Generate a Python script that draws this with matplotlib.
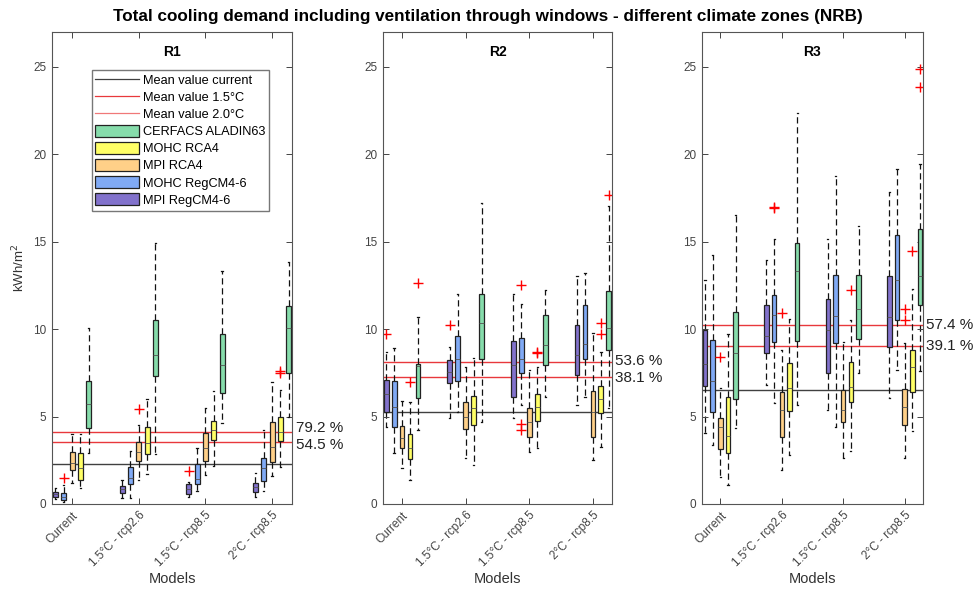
import matplotlib.pyplot as plt
import numpy as np
from matplotlib.lines import Line2D
from matplotlib.patches import Patch

plt.rcParams['font.family'] = ['Liberation Sans', 'DejaVu Sans']

# groups on the x axis and models (left to right inside each group)
groups = ['Current', '1.5°C - rcp2.6', '1.5°C - rcp8.5', '2°C - rcp8.5']
models = ['MPI RegCM4-6', 'MOHC RegCM4-6', 'MPI RCA4', 'MOHC RCA4', 'CERFACS ALADIN63']
model_colors = ['#8272cc', '#80aaf5', '#ffd088', '#ffff66', '#86dcab']
panels = ['R1', 'R2', 'R3']

# box statistics, one row per model, one column per group
r1_lo = [[0.29, 0.32, 0.42, 0.42], [0.13, 0.32, 0.76, 0.76], [1.22, 1.37, 1.66, 1.60],
         [0.90, 1.71, 2.17, 2.13], [2.90, 2.86, 4.65, 4.99]]
r1_q1 = [[0.42, 0.65, 0.57, 0.70], [0.23, 1.12, 1.14, 1.33], [1.94, 2.46, 2.47, 2.38],
         [1.37, 2.86, 3.66, 3.62], [4.32, 7.31, 6.36, 7.50]]
r1_med = [[0.55, 0.84, 0.84, 0.99], [0.42, 1.47, 1.41, 2.04], [2.32, 2.99, 3.18, 3.28],
          [2.04, 3.47, 4.23, 4.13], [5.71, 8.50, 7.94, 10.04]]
r1_q3 = [[0.70, 1.03, 1.12, 1.22], [0.65, 2.13, 2.29, 2.61], [2.99, 3.54, 4.07, 4.70],
         [2.93, 4.38, 4.74, 4.99], [7.03, 10.55, 9.75, 11.31]]
r1_hi = [[0.93, 1.37, 1.27, 1.75], [1.09, 3.05, 3.18, 4.23], [3.98, 4.51, 5.47, 6.99],
         [3.98, 5.98, 6.48, 6.51], [10.07, 14.93, 13.31, 13.85]]
r1_out = [(1, 0, 1.50), (2, 1, 5.43), (0, 2, 1.90), (3, 3, 7.62), (3, 3, 7.52)]

r2_lo = [[4.42, 4.90, 4.90, 5.66], [2.90, 5.28, 5.66, 6.13], [2.04, 2.61, 2.99, 2.51],
         [1.37, 2.23, 3.18, 3.24], [4.23, 4.70, 6.10, 5.47]]
r2_q1 = [[5.28, 6.90, 6.13, 7.37], [4.38, 7.05, 7.47, 8.32], [3.18, 4.30, 3.81, 3.85],
         [2.55, 4.50, 4.74, 5.18], [6.04, 8.32, 7.94, 8.80]]
r2_med = [[6.29, 7.56, 7.94, 8.51], [5.56, 8.32, 8.32, 9.18], [3.75, 4.99, 4.70, 5.28],
          [3.18, 5.47, 5.56, 5.98], [7.90, 10.33, 9.09, 10.04]]
r2_q3 = [[7.09, 8.23, 9.33, 10.23], [7.05, 9.60, 9.47, 11.37], [4.46, 5.81, 5.50, 6.48],
         [4.00, 6.19, 6.27, 6.76], [7.98, 12.04, 10.84, 12.19]]
r2_hi = [[8.70, 8.99, 12.00, 13.03], [8.93, 12.00, 11.43, 13.22], [5.90, 7.85, 7.66, 9.79],
         [5.85, 8.38, 7.85, 8.70], [10.67, 17.22, 12.23, 17.03]]
r2_out = [(0, 0, 9.73), (3, 0, 6.96), (4, 0, 12.67), (0, 1, 10.23),
          (1, 2, 12.55), (1, 2, 4.57), (1, 2, 4.23), (3, 2, 8.69), (3, 2, 8.64),
          (3, 3, 10.33), (3, 3, 9.71), (4, 3, 17.70)]

r3_lo = [[4.04, 6.80, 5.37, 6.04], [3.37, 5.75, 4.42, 7.66], [1.56, 1.94, 2.61, 2.61],
         [1.09, 2.80, 3.05, 4.19], [4.32, 5.66, 7.47, 7.62]]
r3_q1 = [[6.76, 8.61, 7.47, 8.99], [5.28, 9.28, 9.22, 10.55], [3.12, 3.81, 4.70, 4.51],
         [2.90, 5.33, 5.85, 6.42], [5.98, 9.33, 9.41, 11.37]]
r3_med = [[8.00, 9.60, 9.98, 10.70], [7.05, 10.80, 10.74, 12.80], [4.42, 5.37, 5.37, 5.56],
          [3.89, 6.61, 6.70, 7.85], [8.61, 13.31, 11.18, 13.03]]
r3_q3 = [[9.94, 11.41, 11.75, 13.05], [9.37, 11.94, 13.09, 15.41], [4.90, 6.42, 6.51, 6.57],
         [6.10, 8.04, 8.13, 8.80], [10.99, 14.95, 13.09, 15.75]]
r3_hi = [[12.84, 13.94, 15.18, 17.85], [14.23, 15.18, 18.74, 19.18], [6.61, 8.80, 9.28, 9.22],
         [9.75, 10.61, 10.55, 12.32], [16.51, 22.36, 15.89, 19.47]]
r3_out = [(2, 0, 8.42), (1, 1, 16.93), (1, 1, 17.00), (2, 1, 10.90), (3, 2, 12.27),
          (2, 3, 11.18), (2, 3, 10.55), (3, 3, 14.48), (4, 3, 24.86), (4, 3, 23.85)]

# mean of the current climate and increases written next to the red lines
mean_current = [2.31, 5.28, 6.51]
pct_15 = [54.5, 38.1, 39.1]
pct_20 = [79.2, 53.6, 57.4]

stats_all = [(r1_lo, r1_q1, r1_med, r1_q3, r1_hi, r1_out),
             (r2_lo, r2_q1, r2_med, r2_q3, r2_hi, r2_out),
             (r3_lo, r3_q1, r3_med, r3_q3, r3_hi, r3_out)]

fig = plt.figure(figsize=(9.76, 5.94), dpi=100)
W, H = 976, 594
ax_px = [(52, 240), (383, 229), (702, 221)]
offsets = [-0.25, -0.125, 0.0, 0.125, 0.25]
gray = '#404040'
red = '#e8383c'

for p in range(3):
    left, width = ax_px[p]
    ax = fig.add_axes([left / W, 1 - 504 / H, width / W, 472 / H])
    lo, q1, med, q3, hi, out = stats_all[p]
    for m in range(5):
        stats = []
        for g in range(4):
            fl = [v for (mm, gg, v) in out if mm == m and gg == g]
            stats.append(dict(whislo=lo[m][g], q1=q1[m][g], med=med[m][g],
                              q3=q3[m][g], whishi=hi[m][g], fliers=fl))
        pos = np.arange(1, 5) + offsets[m]
        bp = ax.bxp(stats, positions=pos, widths=0.075, patch_artist=True,
                    capwidths=0.02, manage_ticks=False,
                    boxprops=dict(facecolor=model_colors[m], edgecolor='#222222', lw=0.9),
                    medianprops=dict(color='#555555', lw=0.6),
                    whiskerprops=dict(color='#111111', lw=0.9, linestyle=(0, (5, 3))),
                    capprops=dict(color='#111111', lw=0.9),
                    flierprops=dict(marker='+', markeredgecolor='red', markersize=7,
                                    markeredgewidth=1.0))
        for w in bp['whiskers']:
            w.set_zorder(1)

    mc = mean_current[p]
    y15 = mc * (1 + pct_15[p] / 100)
    y20 = mc * (1 + pct_20[p] / 100)
    ax.axhline(mc, color=gray, lw=1.0, zorder=0.5)
    ax.axhline(y15, color=red, lw=1.0, zorder=0.5)
    ax.axhline(y20, color=red, lw=1.0, zorder=0.5)
    gap = y20 - y15
    push = max(0.0, (1.0 - gap) / 2)
    ax.text(1.015, y20 + push, f'{pct_20[p]} %', transform=ax.get_yaxis_transform(),
            va='center', ha='left', fontsize=11, color='#222222')
    ax.text(1.015, y15 - push, f'{pct_15[p]} %', transform=ax.get_yaxis_transform(),
            va='center', ha='left', fontsize=11, color='#222222')

    ax.set_xlim(0.7, 4.3)
    ax.set_ylim(0, 27)
    ax.set_yticks([0, 5, 10, 15, 20, 25])
    ax.set_xticks(np.arange(1, 5))
    ax.set_xticklabels(groups, rotation=45, ha='right', rotation_mode='anchor')
    ax.tick_params(direction='in', top=True, right=True, length=4, width=0.7,
                   labelsize=8.5, labelcolor='#444444', color='#444444', pad=4)
    for s in ax.spines.values():
        s.set_color('#555555')
        s.set_linewidth(0.8)
    ax.set_xlabel('Models', fontsize=10.5, color='#333333', labelpad=2)
    ax.text(0.5, 0.958, panels[p], transform=ax.transAxes, ha='center', va='center',
            fontsize=10, fontweight='bold')
    if p == 0:
        ax.set_ylabel('kWh/m$^2$', fontsize=9.5, color='#333333', labelpad=4)
        handles = [Line2D([], [], color=gray, lw=0.9),
                   Line2D([], [], color=red, lw=0.9),
                   Line2D([], [], color='#f07878', lw=0.9)]
        handles += [Patch(facecolor=model_colors[i], edgecolor='#222222', lw=0.9)
                    for i in [4, 3, 2, 1, 0]]
        labels = ['Mean value current', 'Mean value 1.5°C', 'Mean value 2.0°C',
                  models[4], models[3], models[2], models[1], models[0]]
        ax.legend(handles, labels, loc='upper left', bbox_to_anchor=(0.165, 0.92),
                  fontsize=9.2, frameon=True, fancybox=False, edgecolor='#555555',
                  handlelength=3.4, handleheight=1.05, handletextpad=0.3,
                  labelspacing=0.3, borderpad=0.3, borderaxespad=0)

fig.suptitle('Total cooling demand including ventilation through windows - different climate zones (NRB)',
             x=0.5, y=0.985, fontsize=12.3, fontweight='bold')

fig.savefig('out.png', dpi=100)
